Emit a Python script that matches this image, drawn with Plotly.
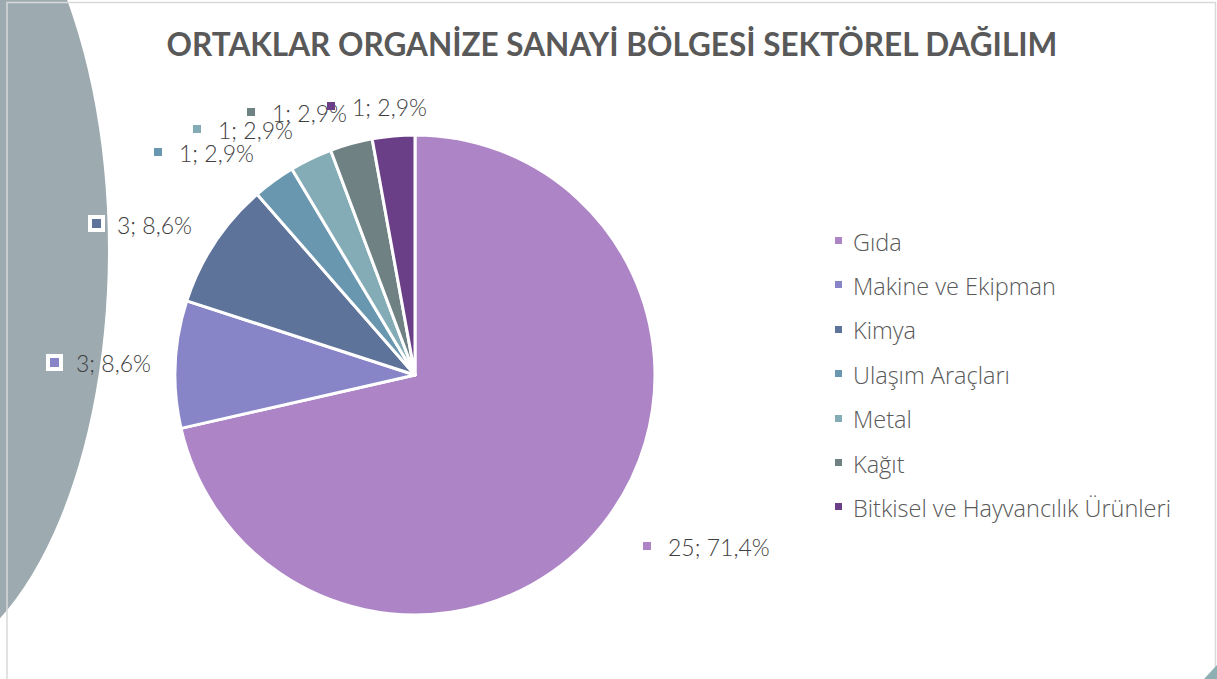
import math
import plotly.graph_objects as go

# ---- data ----
categories = ["Gıda", "Makine ve Ekipman", "Kimya", "Ulaşım Araçları",
              "Metal", "Kağıt", "Bitkisel ve Hayvancılık Ürünleri"]
values = [25, 3, 3, 1, 1, 1, 1]
colors = ["#AD84C6", "#8784C7", "#5D739A", "#6997AF", "#84ACB6", "#6F8183", "#6B3E88"]
title_text = "ORTAKLAR ORGANİZE SANAYİ BÖLGESİ SEKTÖREL DAĞILIM"

# ---- layout constants (pixels) ----
W, H = 1217, 679
CX, CY, R = 415, 375, 240
TITLE_FONT = "Lato"
LABEL_FONT = "Lato"
LEGEND_FONT = "Open Sans"

# label placement tweaks (radial factor, angle shift in degrees)
label_rfac = [1.369, 1.301, 1.290, 1.270, 1.243, 1.194, 1.127]
label_dang = [-7.0, -0.4, -4.4, -7.3, -9.1, -8.5, -2.6]
label_box = [False, True, True, False, False, False, False]


def px(x):
    return x / W


def py(y):
    return 1 - y / H


fig = go.Figure()

fig.add_trace(go.Pie(
    labels=categories,
    values=values,
    sort=False,
    direction="clockwise",
    rotation=0,
    marker=dict(colors=colors, line=dict(color="white", width=3)),
    textinfo="none",
    hoverinfo="skip",
    showlegend=False,
    domain=dict(x=[px(CX - R), px(CX + R)], y=[py(CY + R), py(CY - R)]),
))

shapes = []
# decorative background ellipse on the left
shapes.append(dict(type="circle", xref="paper", yref="paper",
                   x0=px(-308), x1=px(108), y0=py(670), y1=py(-170),
                   fillcolor="#9DABB1", line=dict(width=0), layer="below"))
# chart border
shapes.append(dict(type="rect", xref="paper", yref="paper",
                   x0=px(7), x1=px(1215.5), y0=py(700), y1=py(2.5),
                   line=dict(color="#D9D9D9", width=1.5), fillcolor="rgba(0,0,0,0)"))
# small decorative corner at bottom right
shapes.append(dict(type="path", xref="paper", yref="paper",
                   path=f"M {px(1203)} {py(680)} L {px(1218)} {py(664)} L {px(1218)} {py(680)} Z",
                   fillcolor="#8FAFB2", line=dict(width=0)))

annotations = []
total = sum(values)
cum = 0
for i, (cat, v, col) in enumerate(zip(categories, values, colors)):
    mid = (cum + v / 2) / total * 360
    cum += v
    ang = math.radians(mid + label_dang[i])
    d = R * label_rfac[i]
    lx = CX + d * math.sin(ang)
    ly = CY - d * math.cos(ang)
    mx = lx - 48
    pct = f"{v / total * 100:.1f}".replace(".", ",")
    txt = f"{v}; {pct}%"
    bw = 4 if label_box[i] else 0
    annotations.append(dict(xref="paper", yref="paper", x=px(mx), y=py(ly - 1),
                            text=" ", showarrow=False, width=9 if label_box[i] else 8,
                            height=9 if label_box[i] else 8, borderpad=0,
                            bgcolor=col, bordercolor="white", borderwidth=bw,
                            font=dict(size=4), xanchor="center", yanchor="middle"))
    annotations.append(dict(xref="paper", yref="paper", x=px(mx + 19), y=py(ly),
                            text=txt, showarrow=False, xanchor="left", yanchor="middle",
                            font=dict(family=LABEL_FONT, size=23, color="#404040", weight=300)))

# legend built from categories
for i, (cat, col) in enumerate(zip(categories, colors)):
    ty = 241.5 + i * 44.4
    annotations.append(dict(xref="paper", yref="paper", x=px(838), y=py(ty - 1),
                            text=" ", showarrow=False, width=7, height=7, borderpad=0,
                            bgcolor=col, borderwidth=0, font=dict(size=4),
                            xanchor="center", yanchor="middle"))
    annotations.append(dict(xref="paper", yref="paper", x=px(851), y=py(ty),
                            text=cat, showarrow=False, xanchor="left", yanchor="middle",
                            font=dict(family=LEGEND_FONT, size=23.5, color="#595959", weight=300)))

fig.update_layout(
    width=W, height=H,
    margin=dict(l=0, r=0, t=0, b=0),
    paper_bgcolor="white",
    plot_bgcolor="white",
    title=dict(text=f"<b>{title_text}</b>", x=px(612), y=py(45),
               xanchor="center", yanchor="middle",
               font=dict(family=TITLE_FONT, size=31.5, color="#595959")),
    shapes=shapes,
    annotations=annotations,
)

fig.write_html("out.html", config={"displayModeBar": False},
               post_script="document.body.style.margin='0';")
